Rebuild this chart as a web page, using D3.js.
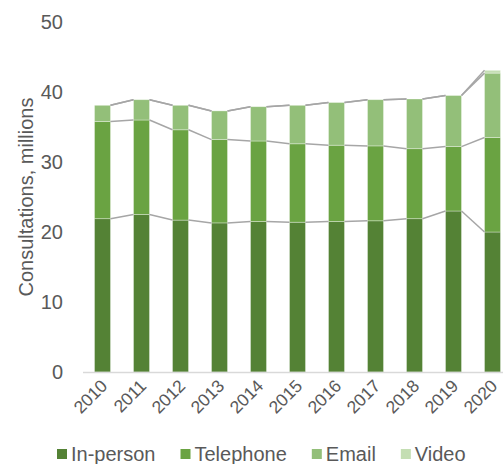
<!DOCTYPE html>
<html lang="en">
<head>
  <meta charset="UTF-8">
  <title>Consultations</title>
  <script src="https://d3js.org/d3.v7.min.js"></script>
  <style>
    body { margin: 0; background: #fff; }
    text { font-family: "Liberation Sans", Arial, sans-serif; fill: #595959; }
  </style>
</head>
<body>
  <script>
    var years = ['2010', '2011', '2012', '2013', '2014', '2015', '2016', '2017', '2018', '2019', '2020'];
    var inPerson = [21.9, 22.5, 21.7, 21.3, 21.5, 21.4, 21.5, 21.6, 21.9, 23.0, 20.0];
    var telephone = [13.9, 13.5, 12.9, 11.9, 11.5, 11.2, 10.9, 10.7, 10.0, 9.2, 13.5];
    var email = [2.3, 2.9, 3.5, 4.1, 4.9, 5.5, 6.1, 6.6, 7.1, 7.3, 9.2];
    var video = [0, 0, 0, 0, 0, 0, 0, 0, 0, 0, 0.4];
    var seriesNames = ['In-person', 'Telephone', 'Email', 'Video'];
    var colors = ['#548235', '#6aa342', '#93bf79', '#c4deb3'];
    var yTicks = [0, 10, 20, 30, 40, 50];

    var width = 503, height = 464;
    var svg = d3.select('body').append('svg')
      .attr('width', width)
      .attr('height', height);

    // table for the stack
    var table = years.map(function (y, i) {
      return { year: y, 'In-person': inPerson[i], 'Telephone': telephone[i], 'Email': email[i], 'Video': video[i] };
    });
    var stacked = d3.stack().keys(seriesNames)(table);

    var x = d3.scaleBand()
      .domain(years)
      .range([83, 83 + 11 * 39])
      .paddingInner(0.59)
      .paddingOuter(0.295);
    var y = d3.scaleLinear().domain([0, 50]).range([372, 22]);

    // bars
    svg.selectAll('g.series')
      .data(stacked)
      .enter()
      .append('g')
      .attr('class', 'series')
      .attr('fill', function (d, i) { return colors[i]; })
      .selectAll('rect')
      .data(function (d) { return d; })
      .enter()
      .append('rect')
      .attr('x', function (d) { return x(d.data.year); })
      .attr('y', function (d) { return y(d[1]); })
      .attr('width', x.bandwidth())
      .attr('height', function (d) { return Math.max(0, y(d[0]) - y(d[1])); })
      .attr('stroke', 'rgba(255,255,255,0.45)')
      .attr('stroke-width', 0.75);

    // series lines between the bars
    stacked.forEach(function (s) {
      for (var i = 0; i < s.length - 1; i++) {
        svg.append('line')
          .attr('x1', x(years[i]) + x.bandwidth())
          .attr('x2', x(years[i + 1]))
          .attr('y1', y(s[i][1]))
          .attr('y2', y(s[i + 1][1]))
          .attr('stroke', '#a6a6a6')
          .attr('stroke-width', 1.5);
      }
    });

    // x axis line
    svg.append('line')
      .attr('x1', 83).attr('x2', width)
      .attr('y1', y(0) + 0.5).attr('y2', y(0) + 0.5)
      .attr('stroke', '#d9d9d9')
      .attr('stroke-width', 1.5);

    // y tick labels
    svg.selectAll('text.ytick')
      .data(yTicks)
      .enter()
      .append('text')
      .attr('class', 'ytick')
      .attr('x', 63)
      .attr('y', function (d) { return y(d); })
      .attr('dy', '0.35em')
      .attr('text-anchor', 'end')
      .attr('font-size', '20px')
      .text(function (d) { return d; });

    // y title
    svg.append('text')
      .attr('transform', 'translate(33,197) rotate(-90)')
      .attr('text-anchor', 'middle')
      .attr('font-size', '20px')
      .text('Consultations, millions');

    // x labels
    svg.selectAll('text.xtick')
      .data(years)
      .enter()
      .append('text')
      .attr('class', 'xtick')
      .attr('text-anchor', 'end')
      .attr('font-size', '17.5px')
      .attr('transform', function (d) {
        return 'translate(' + (x(d) + x.bandwidth() / 2 + 6) + ',387) rotate(-45)';
      })
      .text(function (d) { return d; });

    // legend
    var lx = 57;
    seriesNames.forEach(function (name, i) {
      svg.append('rect')
        .attr('x', lx).attr('y', 449)
        .attr('width', 10).attr('height', 10)
        .attr('fill', colors[i]);
      var t = svg.append('text')
        .attr('x', lx + 14).attr('y', 461)
        .attr('font-size', '20px')
        .text(name);
      lx += 14 + t.node().getComputedTextLength() + 25;
    });
  </script>
</body>
</html>
